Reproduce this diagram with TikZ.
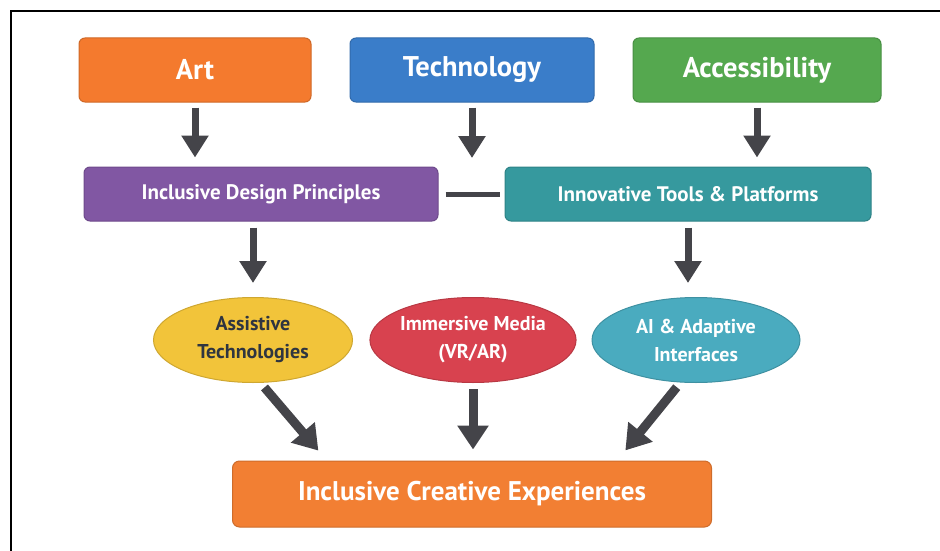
\documentclass[tikz,border=0pt]{standalone}
\usepackage{fontspec}
\setmainfont{PT Sans}
\usetikzlibrary{arrows.meta,shapes.geometric}

\definecolor{artorange}{HTML}{F47A2E}
\definecolor{techblue}{HTML}{3A7DC9}
\definecolor{accgreen}{HTML}{55A84F}
\definecolor{designpurple}{HTML}{8157A3}
\definecolor{toolteal}{HTML}{36999E}
\definecolor{assistyellow}{HTML}{F2C43A}
\definecolor{mediared}{HTML}{D8424F}
\definecolor{aiteal}{HTML}{4AABBF}
\definecolor{goalorange}{HTML}{F27F33}
\definecolor{arrowgray}{HTML}{444449}
\definecolor{darktext}{HTML}{2F3540}

\begin{document}
\begin{tikzpicture}[x=1pt, y=-1pt,
    topbox/.style ={rectangle, rounded corners=6pt, draw=#1!85!black, fill=#1, line width=1pt,
      minimum height=64pt, text=white, font=\bfseries\fontsize{28.5}{32}\selectfont},
    midbox/.style ={rectangle, rounded corners=6pt, draw=#1!85!black, fill=#1, line width=1pt,
      minimum height=54pt, text=white, font=\bfseries\fontsize{21}{25}\selectfont},
    oval/.style ={ellipse, draw=#1!85!black, fill=#1, line width=1pt, inner sep=0pt,
      minimum height=85pt, align=center, text=white, font=\bfseries\fontsize{20}{28}\selectfont},
    goal/.style ={rectangle, rounded corners=7pt, draw=goalorange!85!black, fill=goalorange, line width=1pt,
      minimum width=479pt, minimum height=66pt, text=white, font=\bfseries\fontsize{27}{32}\selectfont},
    flow/.style ={draw=arrowgray, line width=7pt, -{Triangle[length=22pt,width=26pt]}},
    bigflow/.style ={draw=arrowgray, line width=9pt, -{Triangle[length=24pt,width=30pt]}},
    link/.style ={draw=arrowgray, line width=5pt}]
   \useasboundingbox (0,0) rectangle (940,551);
   \draw[line width=2pt] (11,11) rectangle (990,600);

   % sources
   \node[topbox=artorange, minimum width=232pt] (art) at (195,70) {Art};
   \node[topbox=techblue, minimum width=244pt] (tech) at (472,70) {Technology};
   \node[topbox=accgreen, minimum width=248pt] (acc) at (757,70) {Accessibility};

   % second row
   \node[midbox=designpurple, minimum width=354pt] (design) at (261,194) {Inclusive Design Principles};
   \node[midbox=toolteal, minimum width=366pt] (tools) at (688,194) {Innovative Tools \& Platforms};
   \coordinate (hub) at (472,194);

   % ovals
   \node[oval=assistyellow, minimum width=199pt, text=darktext] (assist) at (253,340) {Assistive\\Technologies};
   \node[oval=mediared, minimum width=206pt] (media) at (473,340) {Immersive Media\\(VR/AR)};
   \node[oval=aiteal, minimum width=208pt] (adapt) at (696,340) {AI \& Adaptive\\Interfaces};

   % result
   \node[goal] (result) at (472,494) {Inclusive Creative Experiences};

   \draw[flow, shorten <=5pt, shorten >=9pt] (art.south) to (art.south |- design.north);
   \draw[flow, shorten <=5pt, shorten >=36pt] (tech.south) to (hub);
   \draw[flow, shorten <=5pt, shorten >=9pt] (acc.south) to (acc.south |- tools.north);
   \draw[link, shorten <=7pt, shorten >=5pt] (design.east) to (tools.west);

   \draw[flow, shorten <=6pt, shorten >=14pt] (design.south -| assist.north) to (assist.north);
   \draw[flow, shorten <=6pt, shorten >=14pt] (tools.south) to (tools.south |- adapt.north);

   \draw[bigflow, shorten <=6pt, shorten >=13pt] (assist.-80) to (result.167);
   \draw[bigflow, shorten <=6pt, shorten >=11pt] (media.south) to (media.south |- result.north);
   \draw[bigflow, shorten <=6pt, shorten >=13pt] (adapt.-110) to (result.13);
 \end{tikzpicture}
\end{document}
